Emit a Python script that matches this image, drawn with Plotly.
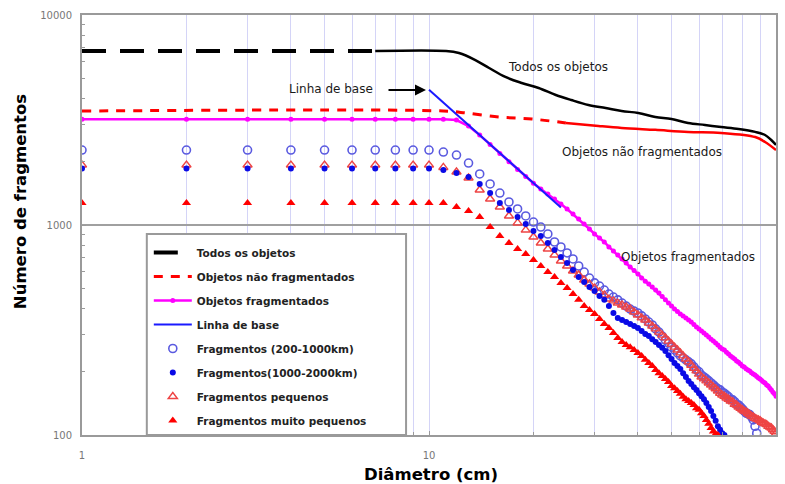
import plotly.graph_objects as go

# Diameters (cm) at which the fragment counts are sampled
diametro = list(range(1, 101))

# "Todos os objetos": dashed at small sizes, solid afterwards
todos_x = [1, 7, 11.2, 12.2, 13.6, 14.9, 16.6, 18.5, 20.7, 23.2, 25.7, 28.8, 32.3,
           35.9, 40.1, 44.9, 50, 55.8, 62.4, 69.5, 78, 87.1, 93, 96.9, 100]
todos_y = [6740, 6740, 6740, 6592, 6105, 5593, 5068, 4746, 4490, 4159, 3936, 3728, 3606,
           3490, 3415, 3268, 3198, 3062, 2994, 2929, 2866, 2775, 2683, 2540, 2405]

# "Objetos não fragmentados"
nao_frag_x = [1, 11, 12.8, 15.9, 19.8, 24.8, 30.8, 35.9, 44.9, 55.8, 69.5, 87.1, 93, 100]
nao_frag_y = [3490, 3490, 3415, 3268, 3196, 3062, 2962, 2900, 2838, 2775, 2745, 2624, 2485, 2276]

# "Objetos fragmentados" (one value per integer diameter 1..100)
frag_y = [3190, 3190, 3190, 3190, 3190, 3190, 3190, 3190, 3190, 3190,
          3190, 3162, 2960, 2680, 2420, 2190, 2000, 1840, 1700, 1580,
          1484, 1405, 1330, 1259, 1192, 1128, 1068, 1011, 957, 906,
          867, 830, 786, 752, 720, 689, 659, 631, 607, 584,
          560, 540, 524, 507, 490, 474, 456, 440, 425, 411,
          398, 387, 377, 369, 361, 353, 345, 336, 327, 320,
          313, 306, 299, 293, 286, 280, 274, 268, 262, 257,
          254, 248, 243, 238, 234, 230, 225, 222, 218, 213,
          211, 207, 204, 202, 198, 195, 193, 190, 187, 185,
          182, 179, 177, 173, 171, 167, 164, 160, 157, 153]

# "Linha de base"
base_x = [10, 24]
base_y = [4400, 1210]

# Fragment populations (one value per integer diameter, starting at 1 cm)
frag_200_1000 = [2275, 2275, 2275, 2275, 2275, 2275, 2275, 2275, 2275, 2275,
                 2226, 2154, 1973, 1750, 1568, 1420, 1287, 1192, 1104, 1033,
                 978, 906, 830, 786, 736, 689, 638, 597, 559, 530,
                 512, 490, 469, 454, 440, 425, 411, 398, 389, 381,
                 369, 357, 345, 334, 320, 309, 296, 283, 274, 262,
                 254, 246, 238, 233, 228, 223, 218, 211, 204, 200,
                 193, 189, 185, 181, 177, 173, 169, 166, 164, 160,
                 158, 155, 152, 148, 147, 144, 140, 139, 136, 133,
                 130, 127, 126, 125, 122, 118, 110, 102]

frag_1000_2000 = [1860, 1860, 1860, 1860, 1860, 1860, 1860, 1860, 1860, 1860,
                  1828, 1770, 1693, 1568, 1420, 1273, 1179, 1092, 1011, 936,
                  886, 821, 760, 705, 659, 611, 565, 535, 507, 485,
                  459, 440, 411, 381, 361, 353, 345, 338, 330, 323,
                  313, 303, 296, 286, 277, 268, 260, 251, 240, 230,
                  220, 213, 206, 197, 189, 181, 175, 169, 164, 158,
                  153, 148, 142, 136, 130, 123, 117, 110, 106, 102, 100]

frag_pequenos = [1930, 1930, 1930, 1930, 1930, 1930, 1930, 1930, 1930, 1930,
                 1880, 1788, 1674, 1468, 1330, 1218, 1104, 1023, 946, 877,
                 821, 769, 720, 674, 638, 604, 578, 547, 524, 501,
                 480, 464, 444, 435, 425, 416, 407, 398, 385, 373,
                 361, 353, 341, 330, 320, 309, 299, 290, 280, 271,
                 262, 254, 246, 238, 230, 223, 215, 208, 202, 195,
                 189, 185, 181, 177, 173, 169, 166, 162, 158, 155,
                 153, 150, 148, 145, 144, 140, 139, 136, 134, 132,
                 130, 129, 127, 125, 123, 122, 120, 119, 118, 117,
                 115, 114, 113, 112, 110, 109, 108, 106, 104, 102]

frag_muito_pequenos = [1273, 1273, 1273, 1273, 1273, 1273, 1273, 1273, 1273, 1273,
                       1273, 1218, 1166, 1092, 978, 886, 821, 769, 728, 681,
                       638, 597, 565, 530, 501, 469, 440, 411, 394, 377,
                       357, 338, 323, 306, 290, 277, 268, 262, 254, 246,
                       238, 228, 220, 213, 204, 197, 191, 185, 179, 171,
                       167, 162, 157, 152, 148, 145, 142, 139, 134, 132,
                       127, 123, 118, 113, 108, 104, 101, 100]

FONT = "DejaVu Sans"

fig = go.Figure()

# Fragmented objects: magenta line with dots
fig.add_trace(go.Scatter(
    x=diametro, y=frag_y, mode="lines+markers", name="Objetos fragmentados",
    line=dict(color="#ff00ff", width=2.5), marker=dict(color="#ff00ff", size=5),
    legendgroup="g3", legendrank=3))

# Baseline
fig.add_trace(go.Scatter(
    x=base_x, y=base_y, mode="lines", name="Linha de base",
    line=dict(color="#1a1aff", width=2), legendgroup="g4", legendrank=4))

# All objects
fig.add_trace(go.Scatter(
    x=todos_x[:2], y=todos_y[:2], mode="lines", name="Todos os objetos",
    line=dict(color="black", width=4, dash="24px,14px"),
    legendgroup="g1", legendrank=1))
fig.add_trace(go.Scatter(
    x=todos_x[1:], y=todos_y[1:], mode="lines", name="Todos os objetos",
    line=dict(color="black", width=2.5, shape="spline"),
    legendgroup="g1", showlegend=False))

# Non-fragmented objects
fig.add_trace(go.Scatter(
    x=nao_frag_x[:6], y=nao_frag_y[:6], mode="lines", name="Objetos não fragmentados",
    line=dict(color="#ff0000", width=3, dash="9px,8px", shape="spline"),
    legendgroup="g2", legendrank=2))
fig.add_trace(go.Scatter(
    x=nao_frag_x[5:], y=nao_frag_y[5:], mode="lines", name="Objetos não fragmentados",
    line=dict(color="#ff0000", width=2.5, shape="spline"),
    legendgroup="g2", showlegend=False))

# Fragment populations
fig.add_trace(go.Scatter(
    x=diametro[:len(frag_200_1000)], y=frag_200_1000, mode="markers",
    name="Fragmentos (200-1000km)",
    marker=dict(symbol="circle-open", size=8, color="#5a5ae0", line=dict(width=1.6)),
    legendgroup="g5", legendrank=5))
fig.add_trace(go.Scatter(
    x=diametro[:len(frag_pequenos)], y=frag_pequenos, mode="markers",
    name="Fragmentos pequenos",
    marker=dict(symbol="triangle-up-open", size=8, color="#ee4444", line=dict(width=1.4)),
    legendgroup="g7", legendrank=7))
fig.add_trace(go.Scatter(
    x=diametro[:len(frag_1000_2000)], y=frag_1000_2000, mode="markers",
    name="Fragmentos(1000-2000km)",
    marker=dict(symbol="circle", size=6, color="#0a0ae6"),
    legendgroup="g6", legendrank=6))
fig.add_trace(go.Scatter(
    x=diametro[:len(frag_muito_pequenos)], y=frag_muito_pequenos, mode="markers",
    name="Fragmentos muito pequenos",
    marker=dict(symbol="triangle-up", size=8, color="#ff0000"),
    legendgroup="g8", legendrank=8))

W, H = 785, 484
ML, MR, MT, MB = 82, 7, 15, 49
PW, PH = W - ML - MR, H - MT - MB


def px_x(px):
    return (px - ML) / PW


def px_y(py):
    return (H - MB - py) / PH


annotations = [
    dict(text="Todos os objetos", x=px_x(559), y=px_y(67)),
    dict(text="Objetos não fragmentados", x=px_x(644), y=px_y(152)),
    dict(text="Objetos fragmentados", x=px_x(690), y=px_y(257)),
    dict(text="Linha de base", x=px_x(332), y=px_y(89)),
]
for a in annotations:
    a.update(xref="paper", yref="paper", showarrow=False,
             xanchor="center", yanchor="middle",
             font=dict(family=FONT, size=12, color="#1a1a1a"))

# Arrow pointing at the start of the baseline
annotations.append(dict(
    text="", xref="paper", yref="paper", x=px_x(427), y=px_y(90),
    showarrow=True, ax=-39, ay=0, arrowhead=2, arrowsize=1.1, arrowwidth=2,
    arrowcolor="black"))

# Axis titles
annotations.append(dict(
    text="Número de fragmentos", xref="paper", yref="paper",
    x=px_x(20), y=px_y(201), textangle=-90, showarrow=False,
    xanchor="center", yanchor="middle",
    font=dict(family=FONT, size=16.5, color="black", weight="bold")))
annotations.append(dict(
    text="Diâmetro (cm)", xref="paper", yref="paper",
    x=px_x(432), y=px_y(474), showarrow=False,
    xanchor="center", yanchor="middle",
    font=dict(family=FONT, size=16.5, color="black", weight="bold")))

axis_line = "#9a9a9a"

fig.update_layout(
    width=W, height=H,
    margin=dict(l=ML, r=MR, t=MT, b=MB),
    paper_bgcolor="white", plot_bgcolor="white",
    font=dict(family=FONT),
    showlegend=True,
    legend=dict(
        x=px_x(149), y=0, xanchor="left", yanchor="bottom",
        bgcolor="rgba(0,0,0,0)", borderwidth=0,
        font=dict(family=FONT, size=10.5, color="#222", weight="bold"),
        itemwidth=38, tracegroupgap=5),
    annotations=annotations,
    shapes=[dict(
        type="rect", xref="paper", yref="paper",
        x0=px_x(147), x1=px_x(407), y0=0, y1=px_y(234),
        line=dict(color=axis_line, width=2), fillcolor="white", layer="above")],
    xaxis=dict(
        type="log", range=[0, 2],
        tickvals=[1, 10, 100], ticktext=["1", "10", "100"],
        showgrid=True, gridcolor="#d4d4f7", gridwidth=1,
        ticks="inside", ticklen=4, tickcolor=axis_line,
        minor=dict(tickvals=[2, 3, 4, 5, 6, 7, 8, 9, 20, 30, 40, 50, 60, 70, 80, 90],
                   showgrid=True, gridcolor="#d4d4f7", gridwidth=1,
                   ticks="inside", ticklen=3, tickcolor=axis_line),
        showline=True, linecolor=axis_line, linewidth=2, mirror=True,
        zeroline=False,
        tickfont=dict(family=FONT, size=10, color="#777"),
        ticklabelstandoff=10),
    yaxis=dict(
        type="log", range=[2, 4],
        tickvals=[100, 1000, 10000], ticktext=["100", "1000", "10000"],
        showgrid=True, gridcolor="#a0a0a0", gridwidth=1.5,
        ticks="inside", ticklen=4, tickcolor=axis_line,
        minor=dict(tickvals=[200, 300, 400, 500, 600, 700, 800, 900,
                             2000, 3000, 4000, 5000, 6000, 7000, 8000, 9000],
                   showgrid=False, ticks="inside", ticklen=3, tickcolor=axis_line),
        showline=True, linecolor=axis_line, linewidth=2, mirror=True,
        zeroline=False,
        tickfont=dict(family=FONT, size=10, color="#777"),
        ticklabelstandoff=6),
)

fig.write_html("out.html")
